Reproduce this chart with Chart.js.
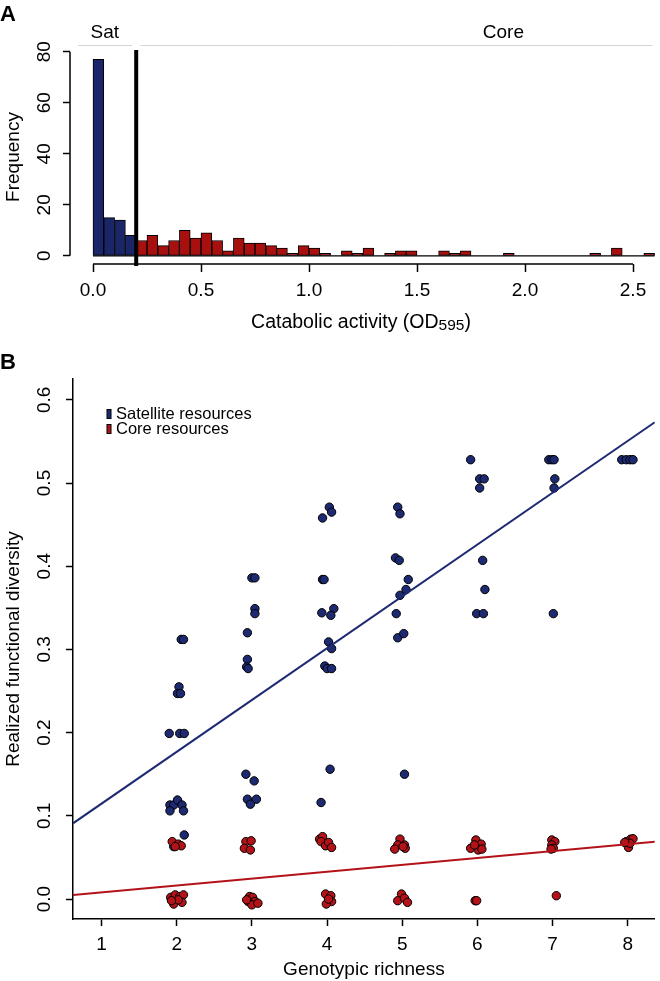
<!DOCTYPE html>
<html>
<head>
<meta charset="utf-8">
<script src="https://cdn.jsdelivr.net/npm/chart.js@4.4.1/dist/chart.umd.min.js"></script>
<style>
  html, body { margin: 0; padding: 0; background: #fff; }
  #wrap { position: relative; width: 660px; height: 981px; }
  canvas { position: absolute; left: 0; }
  #histCanvas { top: 0; }
  #scatterCanvas { top: 340px; }
</style>
</head>
<body>
<div id="wrap">
  <canvas id="histCanvas" width="660" height="340"></canvas>
  <canvas id="scatterCanvas" width="660" height="641"></canvas>
</div>
<script>
// ---- panel A: histogram of catabolic activity ----
const binWidth = 0.05;
const histRange = [0, 2.6];
const satCutoff = 0.2;
const satBinStarts = [0.00, 0.05, 0.10, 0.15];
const satCounts = [77, 15, 14, 8];
const coreBinStarts = [0.20, 0.25, 0.30, 0.35, 0.40, 0.45, 0.50, 0.55, 0.60, 0.65,
  0.70, 0.75, 0.80, 0.85, 0.90, 0.95, 1.00, 1.05, 1.15, 1.20, 1.25, 1.35, 1.40,
  1.45, 1.60, 1.65, 1.70, 1.90, 2.30, 2.40, 2.55];
const coreCounts = [6, 8, 4, 6, 10, 7, 9, 6, 2, 7,
  5, 5, 4, 3, 1, 4, 3, 1, 2, 1, 3, 1, 2,
  2, 2, 1, 2, 1, 1, 3, 1];
const histTicksX = [0, 0.5, 1.0, 1.5, 2.0, 2.5];
const histTicksY = [0, 20, 40, 60, 80];

// ---- panel B: realized functional diversity vs genotypic richness ----
const satRichness = [
  2.06, 2.09, 2.03, 2.01, 2.05, 1.90, 2.04, 2.10, 1.91, 1.96, 2.01, 2.07, 1.91, 2.09, 2.10, 1.96, 1.93,
  3.00, 3.04, 3.04, 3.04, 2.94, 2.94, 2.93, 2.95, 2.92, 3.03, 2.94, 3.06, 2.98,
  4.03, 4.06, 3.94, 3.94, 3.96, 3.93, 4.09, 4.05, 4.02, 4.06, 3.97, 4.00, 4.06, 4.04, 3.92,
  4.94, 4.97, 4.91, 4.96, 5.08, 5.05, 4.97, 4.92, 4.94, 5.02, 5.03,
  5.91, 6.03, 6.09, 6.03, 6.07, 6.10, 5.99, 6.08,
  6.95, 6.99, 7.02, 7.03, 7.02, 7.01,
  7.92, 7.98, 8.03, 8.07
];
const satDiversity = [
  0.312, 0.312, 0.255, 0.247, 0.247, 0.199, 0.199, 0.199, 0.113, 0.113, 0.119, 0.113, 0.106, 0.106, 0.077, 0.063, 0.000,
  0.386, 0.386, 0.349, 0.343, 0.320, 0.288, 0.279, 0.277, 0.150, 0.142, 0.120, 0.120, 0.114,
  0.471, 0.465, 0.458, 0.384, 0.384, 0.344, 0.349, 0.341, 0.309, 0.301, 0.280, 0.277, 0.277, 0.156, 0.116,
  0.471, 0.463, 0.410, 0.407, 0.384, 0.372, 0.365, 0.343, 0.314, 0.319, 0.150,
  0.528, 0.505, 0.505, 0.494, 0.407, 0.372, 0.343, 0.343,
  0.528, 0.528, 0.528, 0.505, 0.494, 0.343,
  0.528, 0.528, 0.528, 0.528
];
const coreRichness = [
  1.94, 2.02, 2.06, 1.98, 1.92, 1.98, 2.04, 2.09, 1.96, 2.07, 2.02, 1.93,
  2.92, 2.99, 2.90, 2.98, 2.97, 3.01, 2.95, 3.04, 3.00, 3.08, 2.93,
  3.90, 3.94, 3.92, 3.98, 4.02, 4.06, 3.98, 4.05, 4.06, 3.99, 4.02,
  4.97, 4.94, 5.03, 4.90, 5.04, 5.01, 4.99, 4.94, 5.03, 5.07,
  5.98, 6.05, 5.91, 6.01, 6.06, 5.96, 5.97, 5.99,
  6.99, 7.03, 6.99, 7.01, 6.98, 7.05,
  7.98, 8.04, 8.07, 8.01, 8.03, 7.96
];
const coreDiversity = [
  0.069, 0.066, 0.064, 0.063, 0.002, 0.005, 0.003, 0.005, -0.006, -0.004, -0.001, -0.002,
  0.069, 0.070, 0.061, 0.059, 0.003, 0.002, -0.003, -0.003, -0.007, -0.005, -0.001,
  0.072, 0.075, 0.069, 0.064, 0.068, 0.062, 0.006, 0.004, -0.003, -0.006, 0.000,
  0.072, 0.065, 0.065, 0.060, 0.061, 0.063, 0.006, -0.002, 0.001, -0.004,
  0.071, 0.066, 0.061, 0.059, 0.060, 0.065, -0.002, -0.002,
  0.071, 0.069, 0.065, 0.061, 0.060, 0.004,
  0.069, 0.072, 0.0725, 0.062, 0.067, 0.068
];
// fitted lines, read at the two edges of the plot
const fitRichness = [0.62, 8.36];
const satFit = [0.091, 0.573];
const coreFit = [0.0048, 0.0688];
const richTicks = [1, 2, 3, 4, 5, 6, 7, 8];
const divTicks = [0.0, 0.1, 0.2, 0.3, 0.4, 0.5, 0.6];

const FONT = "'Liberation Sans', Arial, sans-serif";
const satBar = "#1b2669";
const coreBar = "#a80f0f";
const satColor = "#1d2a72";
const coreColor = "#b31218";

function pts(xs, ys) {
  return xs.map((x, i) => ({ x: x, y: ys[i] }));
}

function rotatedTickLabels(chart, scale, x, fmt) {
  const ctx = chart.ctx;
  ctx.save();
  ctx.fillStyle = "#000";
  ctx.font = "19px " + FONT;
  ctx.textAlign = "center";
  ctx.textBaseline = "middle";
  scale.ticks.forEach(t => {
    ctx.save();
    ctx.translate(x, scale.getPixelForValue(t.value));
    ctx.rotate(-Math.PI / 2);
    ctx.fillText(fmt(t.value), 0, 0);
    ctx.restore();
  });
  ctx.restore();
}

function rotatedText(ctx, text, x, y) {
  ctx.save();
  ctx.translate(x, y);
  ctx.rotate(-Math.PI / 2);
  ctx.textAlign = "center";
  ctx.textBaseline = "middle";
  ctx.fillText(text, 0, 0);
  ctx.restore();
}

const histDecor = {
  id: "histDecor",
  afterDatasetsDraw(chart) {
    const ctx = chart.ctx;
    const xs = chart.scales.x, ys = chart.scales.y;
    const area = chart.chartArea;
    ctx.save();
    ctx.strokeStyle = "#000";
    // baseline of the histogram
    ctx.lineWidth = 1.2;
    ctx.beginPath();
    ctx.moveTo(xs.getPixelForValue(histRange[0]), ys.getPixelForValue(0));
    ctx.lineTo(xs.getPixelForValue(histRange[1]), ys.getPixelForValue(0));
    ctx.stroke();
    // satellite / core cut-off
    ctx.lineWidth = 4;
    ctx.beginPath();
    ctx.moveTo(xs.getPixelForValue(satCutoff), area.top);
    ctx.lineTo(xs.getPixelForValue(satCutoff), area.bottom + 2);
    ctx.stroke();
    // axis lines, first tick to last tick
    ctx.lineWidth = 1.5;
    ctx.beginPath();
    ctx.moveTo(xs.getPixelForValue(histTicksX[0]), area.bottom);
    ctx.lineTo(xs.getPixelForValue(histTicksX[histTicksX.length - 1]), area.bottom);
    ctx.moveTo(area.left, ys.getPixelForValue(histTicksY[0]));
    ctx.lineTo(area.left, ys.getPixelForValue(histTicksY[histTicksY.length - 1]));
    ctx.stroke();
    // group labels above the plot
    ctx.strokeStyle = "#d4d4d4";
    ctx.lineWidth = 1;
    ctx.beginPath();
    ctx.moveTo(xs.getPixelForValue(-0.07), 45.5);
    ctx.lineTo(xs.getPixelForValue(0.18), 45.5);
    ctx.moveTo(xs.getPixelForValue(0.22), 45.5);
    ctx.lineTo(xs.getPixelForValue(2.59), 45.5);
    ctx.stroke();
    ctx.fillStyle = "#000";
    ctx.font = "19px " + FONT;
    ctx.textAlign = "center";
    ctx.textBaseline = "middle";
    ctx.fillText("Sat", xs.getPixelForValue(0.055), 33);
    ctx.fillText("Core", xs.getPixelForValue(1.9), 33);
    // axis titles
    rotatedText(ctx, "Frequency", 14, (area.top + area.bottom) / 2);
    const main = "Catabolic activity (OD", sub = "595", end = ")";
    ctx.font = "19.5px " + FONT;
    const w1 = ctx.measureText(main).width, w3 = ctx.measureText(end).width;
    ctx.font = "15.5px " + FONT;
    const w2 = ctx.measureText(sub).width;
    const tx = (area.left + area.right) / 2 - 4 - (w1 + w2 + w3) / 2;
    ctx.textAlign = "left";
    ctx.textBaseline = "alphabetic";
    ctx.font = "19.5px " + FONT;
    ctx.fillText(main, tx, 328);
    ctx.font = "15.5px " + FONT;
    ctx.fillText(sub, tx + w1, 330);
    ctx.font = "19.5px " + FONT;
    ctx.fillText(end, tx + w1 + w2, 328);
    // panel letter
    ctx.font = "bold 22px " + FONT;
    ctx.textBaseline = "middle";
    ctx.fillText("A", 0, 15);
    ctx.restore();
    rotatedTickLabels(chart, ys, 45, v => String(v));
  }
};

new Chart(document.getElementById("histCanvas"), {
  type: "bar",
  data: {
    datasets: [
      {
        label: "Satellite",
        data: pts(satBinStarts.map(s => s + binWidth / 2), satCounts),
        backgroundColor: satBar
      },
      {
        label: "Core",
        data: pts(coreBinStarts.map(s => s + binWidth / 2), coreCounts),
        backgroundColor: coreBar
      }
    ].map(d => Object.assign(d, {
      borderColor: "#000",
      borderWidth: 1,
      borderSkipped: false,
      grouped: false,
      barPercentage: 1,
      categoryPercentage: 1
    }))
  },
  options: {
    responsive: false,
    animation: false,
    layout: { padding: { top: 50, left: 0, right: 0, bottom: 0 } },
    plugins: { legend: { display: false }, tooltip: { enabled: false } },
    scales: {
      x: {
        type: "linear",
        offset: false,
        min: -0.1065,
        max: 2.625,
        afterBuildTicks: s => { s.ticks = histTicksX.map(v => ({ value: v })); },
        afterFit: s => { s.height = 76; },
        ticks: {
          color: "#000",
          font: { family: FONT, size: 19 },
          padding: 7,
          maxRotation: 0,
          autoSkip: false,
          callback: v => v.toFixed(1)
        },
        grid: { offset: false, drawOnChartArea: false, tickLength: 8, tickColor: "#000", tickWidth: 1.5 },
        border: { display: false }
      },
      y: {
        min: -3.2,
        max: 80.7,
        afterBuildTicks: s => { s.ticks = histTicksY.map(v => ({ value: v })); },
        afterFit: s => { s.width = 70; },
        ticks: { display: false },
        grid: { drawOnChartArea: false, tickLength: 7, tickColor: "#000", tickWidth: 1.5 },
        border: { display: false }
      }
    }
  },
  plugins: [histDecor]
});

const scatterDecor = {
  id: "scatterDecor",
  afterDraw(chart) {
    const ctx = chart.ctx;
    const area = chart.chartArea;
    ctx.save();
    ctx.fillStyle = "#000";
    ctx.font = "19px " + FONT;
    rotatedText(ctx, "Realized functional diversity", 14, (area.top + area.bottom) / 2);
    ctx.textAlign = "center";
    ctx.textBaseline = "middle";
    ctx.fillText("Genotypic richness", (area.left + area.right) / 2, 630);
    // legend
    const items = chart.data.datasets.filter(d => d.type === "scatter");
    items.sort((a, b) => a.legendRank - b.legendRank);
    ctx.font = "16.5px " + FONT;
    ctx.textAlign = "left";
    items.forEach((d, i) => {
      const cy = 74 + i * 15;
      ctx.fillStyle = d.backgroundColor;
      ctx.fillRect(107, cy - 4.5, 4, 9);
      ctx.strokeStyle = "#000";
      ctx.lineWidth = 1;
      ctx.strokeRect(107, cy - 4.5, 4, 9);
      ctx.fillStyle = "#000";
      ctx.fillText(d.label, 116, cy);
    });
    ctx.font = "bold 22px " + FONT;
    ctx.fillText("B", 0, 23);
    ctx.restore();
    rotatedTickLabels(chart, chart.scales.y, 45, v => v.toFixed(1));
  }
};

new Chart(document.getElementById("scatterCanvas"), {
  type: "scatter",
  data: {
    datasets: [
      {
        type: "line",
        label: "Satellite fit",
        data: pts(fitRichness, satFit),
        borderColor: satColor,
        borderWidth: 2,
        pointRadius: 0,
        order: 0
      },
      {
        type: "line",
        label: "Core fit",
        data: pts(fitRichness, coreFit),
        borderColor: coreColor,
        borderWidth: 2,
        pointRadius: 0,
        order: 0
      },
      {
        type: "scatter",
        label: "Core resources",
        legendRank: 2,
        data: pts(coreRichness, coreDiversity),
        backgroundColor: coreColor,
        borderColor: "#000",
        borderWidth: 1,
        pointRadius: 4.2,
        order: 1
      },
      {
        type: "scatter",
        label: "Satellite resources",
        legendRank: 1,
        data: pts(satRichness, satDiversity),
        backgroundColor: satColor,
        borderColor: "#000",
        borderWidth: 1,
        pointRadius: 4.2,
        order: 2
      }
    ]
  },
  options: {
    responsive: false,
    animation: false,
    layout: { padding: { top: 39, left: 0, right: 0, bottom: 0 } },
    plugins: { legend: { display: false }, tooltip: { enabled: false } },
    scales: {
      x: {
        type: "linear",
        min: 0.62,
        max: 8.36,
        afterBuildTicks: s => { s.ticks = richTicks.map(v => ({ value: v })); },
        afterFit: s => { s.height = 62; },
        ticks: {
          color: "#000",
          font: { family: FONT, size: 19 },
          padding: 7,
          maxRotation: 0,
          autoSkip: false,
          callback: v => String(v)
        },
        grid: { drawOnChartArea: false, tickLength: 7, tickColor: "#000", tickWidth: 1.5 },
        border: { display: true, color: "#000", width: 1.5 }
      },
      y: {
        min: -0.024,
        max: 0.625,
        afterBuildTicks: s => { s.ticks = divTicks.map(v => ({ value: v })); },
        afterFit: s => { s.width = 73; },
        ticks: { display: false },
        grid: { drawOnChartArea: false, tickLength: 7, tickColor: "#000", tickWidth: 1.5 },
        border: { display: true, color: "#000", width: 1.5 }
      }
    }
  },
  plugins: [scatterDecor]
});
</script>
</body>
</html>
